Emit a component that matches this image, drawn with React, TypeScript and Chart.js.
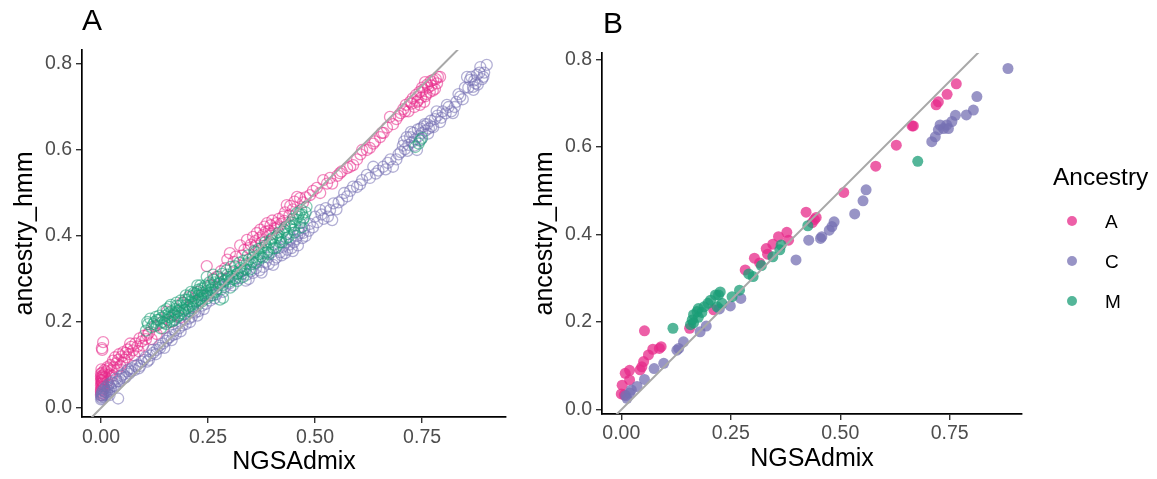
import React, { useEffect, useRef } from 'react';
import Chart from 'chart.js/auto';

// ---------- DATA ----------
const seriesNames = ['A', 'C', 'M'];
const xTickValues = [0, 0.25, 0.5, 0.75];
const xTickLabels = ['0.00', '0.25', '0.50', '0.75'];
const yTickValues = [0, 0.2, 0.4, 0.6, 0.8];
const yTickLabels = ['0.0', '0.2', '0.4', '0.6', '0.8'];
const diagonal = [-0.2, 1.2];

// Panel A (many windows) : [NGSAdmix, ancestry_hmm]
const panelA_A: number[][] = [
  [0.000,0.030],[0.000,0.038],[0.001,0.045],[0.000,0.052],[0.002,0.058],[0.000,0.064],[0.001,0.070],[0.003,0.075],[0.000,0.080],[0.004,0.042],[0.005,0.055],[0.006,0.067],[0.002,0.139],[0.005,0.153],[0.003,0.135],[0.001,0.034],[0.003,0.049],[0.002,0.062],[0.004,0.071],
  [0.000,0.042],[0.001,0.056],[0.002,0.066],[0.000,0.073],[0.003,0.082],[0.001,0.090],[0.004,0.060],[0.007,0.078],[0.008,0.088],[0.006,0.050],
  [0.010,0.072],[0.012,0.085],[0.015,0.062],[0.018,0.092],[0.020,0.078],[0.022,0.100],[0.025,0.088],[0.028,0.110],[0.030,0.095],[0.033,0.118],[0.036,0.104],[0.040,0.112],[0.042,0.125],[0.045,0.098],[0.048,0.120],[0.052,0.130],[0.055,0.112],[0.058,0.128],[0.062,0.136],[0.066,0.125],[0.070,0.142],[0.075,0.134],[0.080,0.150],[0.085,0.143],[0.090,0.162],[0.095,0.155],[0.100,0.168],[0.105,0.160],
  [0.015,0.095],[0.026,0.075],[0.038,0.090],[0.050,0.105],[0.060,0.118],[0.068,0.150],[0.078,0.122],[0.088,0.132],[0.098,0.145],[0.108,0.170],[0.118,0.160],[0.130,0.172],[0.145,0.185],[0.165,0.200],[0.185,0.210],
  [0.112,0.175],[0.125,0.190],[0.140,0.198],[0.154,0.224],[0.172,0.215],[0.190,0.245],[0.205,0.258],[0.225,0.270],[0.247,0.330],[0.262,0.300],[0.280,0.318],[0.295,0.345],[0.301,0.360],[0.315,0.352],[0.325,0.378],[0.335,0.368],
  [0.215,0.235],[0.235,0.262],[0.255,0.285],[0.270,0.305],[0.290,0.325],[0.310,0.340],[0.330,0.355],[0.345,0.372],[0.362,0.378],[0.375,0.385],[0.385,0.410],[0.398,0.405],[0.412,0.420],[0.428,0.435],
  [0.341,0.391],[0.350,0.380],[0.355,0.398],[0.360,0.388],[0.364,0.407],[0.370,0.395],[0.372,0.415],[0.378,0.402],[0.382,0.422],[0.388,0.430],[0.392,0.412],[0.396,0.425],[0.400,0.436],[0.405,0.418],[0.410,0.430],[0.415,0.440],[0.420,0.428],[0.425,0.445],[0.434,0.472],[0.430,0.455],[0.440,0.448],[0.448,0.462],
  [0.442,0.470],[0.452,0.480],[0.458,0.491],[0.465,0.488],[0.472,0.478],[0.478,0.490],[0.488,0.495],[0.495,0.505],[0.504,0.512],[0.512,0.500],[0.519,0.530],[0.528,0.522],[0.535,0.535],[0.540,0.522],[0.552,0.540],[0.558,0.546],[0.562,0.550],[0.575,0.558],[0.582,0.561],[0.589,0.565],[0.598,0.578],[0.606,0.590],[0.610,0.600],[0.621,0.600],[0.628,0.605],[0.636,0.615],
  [0.640,0.620],[0.652,0.630],[0.656,0.640],[0.660,0.640],[0.668,0.652],[0.675,0.677],[0.682,0.660],[0.690,0.672],[0.695,0.680],[0.700,0.686],[0.706,0.695],[0.710,0.690],[0.712,0.705],[0.718,0.690],[0.722,0.712],[0.726,0.708],[0.728,0.720],[0.732,0.700],[0.736,0.728],[0.738,0.712],[0.740,0.715],[0.744,0.735],[0.748,0.722],[0.750,0.745],[0.752,0.740],[0.757,0.758],[0.758,0.725],[0.760,0.730],[0.762,0.752],[0.764,0.745],[0.768,0.735],[0.770,0.760],[0.772,0.750],[0.775,0.738],[0.776,0.763],[0.780,0.742],[0.782,0.765],[0.785,0.755],[0.792,0.770],[0.745,0.705],[0.755,0.712],[0.787,0.770]
];

const panelA_C: number[][] = [
  [0.000,0.020],[0.001,0.025],[0.000,0.030],[0.002,0.035],[0.003,0.028],[0.004,0.040],[0.006,0.032],[0.008,0.045],[0.010,0.036],[0.012,0.050],[0.015,0.042],[0.018,0.055],[0.020,0.030],[0.022,0.048],[0.025,0.060],[0.030,0.052],[0.035,0.068],[0.040,0.022],[0.042,0.062],[0.048,0.075],[0.055,0.070],[0.060,0.085],[0.066,0.080],[0.072,0.092],[0.078,0.088],[0.085,0.100],[0.092,0.098],[0.100,0.112],[0.108,0.108],[0.115,0.122],[0.122,0.128],[0.130,0.135],[0.138,0.140],[0.145,0.150],[0.152,0.156],[0.160,0.165],[0.168,0.170],[0.175,0.172],[0.182,0.185],[0.190,0.192],[0.198,0.195],[0.205,0.208],[0.212,0.212],[0.220,0.222],[0.228,0.225],[0.236,0.238],[0.245,0.242],[0.255,0.250],[0.262,0.262],[0.270,0.265],[0.280,0.275],[0.290,0.282],
  [0.002,0.022],[0.004,0.030],[0.006,0.026],[0.008,0.038],[0.011,0.030],[0.014,0.036],[0.016,0.048],[0.019,0.040],[0.024,0.044],[0.028,0.058],[0.033,0.050],[0.038,0.062],[0.045,0.068],[0.052,0.078],[0.058,0.072],[0.064,0.090],[0.070,0.085],[0.080,0.098],[0.088,0.092],[0.095,0.108],[0.104,0.118],[0.112,0.112],[0.120,0.135],[0.128,0.125],[0.136,0.145],[0.148,0.140],[0.156,0.162],[0.165,0.158],[0.172,0.180],[0.186,0.178],[0.195,0.205],[0.208,0.200],[0.216,0.225],[0.225,0.215],[0.240,0.230],[0.250,0.260],[0.265,0.255],[0.275,0.285],[0.285,0.270],[0.295,0.300],
  [0.300,0.290],[0.312,0.298],[0.325,0.302],[0.338,0.296],[0.341,0.310],[0.350,0.318],[0.355,0.314],[0.362,0.325],[0.370,0.320],[0.379,0.328],[0.385,0.340],[0.392,0.335],[0.402,0.333],[0.410,0.350],[0.418,0.362],[0.425,0.375],[0.430,0.360],[0.435,0.368],[0.440,0.380],[0.445,0.372],[0.450,0.385],[0.455,0.392],[0.460,0.378],[0.465,0.407],[0.472,0.407],[0.470,0.395],[0.478,0.400],[0.485,0.412],[0.495,0.420],[0.505,0.432],[0.512,0.460],[0.520,0.440],[0.530,0.445],[0.540,0.437],[0.543,0.476],[0.550,0.462],[0.563,0.484],[0.575,0.492],[0.589,0.515],[0.598,0.514],[0.610,0.530],[0.621,0.542],[0.636,0.561],[0.648,0.552],[0.659,0.561],[0.670,0.570],[0.682,0.561],[0.690,0.578],
  [0.308,0.285],[0.320,0.312],[0.332,0.320],[0.345,0.300],[0.358,0.335],[0.368,0.342],[0.375,0.315],[0.390,0.350],[0.398,0.362],[0.405,0.345],[0.415,0.372],[0.422,0.355],[0.432,0.385],[0.442,0.392],[0.448,0.365],[0.458,0.400],[0.462,0.412],[0.475,0.418],[0.488,0.428],[0.500,0.445],[0.515,0.450],[0.525,0.465],[0.535,0.460],[0.555,0.478],[0.568,0.500],[0.582,0.505],[0.605,0.520],[0.628,0.535],[0.642,0.545],[0.665,0.555],[0.676,0.578],[0.695,0.590],
  [0.700,0.595],[0.705,0.610],[0.710,0.602],[0.714,0.630],[0.718,0.612],[0.722,0.630],[0.726,0.618],[0.730,0.640],[0.734,0.625],[0.738,0.600],[0.742,0.632],[0.746,0.650],[0.750,0.640],[0.754,0.655],[0.758,0.645],[0.762,0.660],[0.766,0.650],[0.770,0.668],[0.776,0.653],[0.780,0.672],[0.786,0.680],[0.792,0.665],[0.798,0.690],[0.805,0.685],[0.812,0.700],[0.822,0.686],[0.830,0.712],[0.839,0.724],[0.845,0.718],[0.855,0.770],[0.858,0.745],[0.862,0.763],[0.869,0.747],[0.872,0.762],[0.878,0.775],[0.880,0.752],[0.886,0.793],[0.890,0.765],[0.895,0.780],[0.901,0.798],[0.870,0.740],
  [0.708,0.620],[0.716,0.598],[0.724,0.642],[0.732,0.610],[0.740,0.648],[0.748,0.625],[0.756,0.660],[0.764,0.638],[0.772,0.655],[0.784,0.690],[0.795,0.675],[0.808,0.705],[0.818,0.690],[0.826,0.700],[0.835,0.730],[0.850,0.745],[0.865,0.770],[0.875,0.755],[0.884,0.780],[0.893,0.770]
];

const panelA_M: number[][] = [
  [0.105,0.180],[0.110,0.195],[0.118,0.188],[0.125,0.200],[0.130,0.192],[0.131,0.205],[0.135,0.205],[0.140,0.185],[0.142,0.210],[0.148,0.198],[0.150,0.215],[0.155,0.205],[0.158,0.220],[0.162,0.210],[0.165,0.225],[0.168,0.202],[0.170,0.218],[0.174,0.230],[0.178,0.212],[0.180,0.225],[0.184,0.238],[0.187,0.220],[0.190,0.232],[0.193,0.245],[0.196,0.228],[0.200,0.240],[0.203,0.252],[0.206,0.235],[0.210,0.248],[0.213,0.260],[0.216,0.242],[0.219,0.255],[0.222,0.266],[0.225,0.250],[0.228,0.262],[0.231,0.272],[0.234,0.256],[0.237,0.268],[0.240,0.278],[0.243,0.262],[0.246,0.272],[0.250,0.284],[0.255,0.268],[0.260,0.280],[0.265,0.292],[0.270,0.276],[0.275,0.290],[0.280,0.300],[0.285,0.286],[0.290,0.298],[0.295,0.310],[0.300,0.294],[0.305,0.306],[0.310,0.318],[0.315,0.302],[0.320,0.314],[0.325,0.326],[0.330,0.312],[0.335,0.324],[0.340,0.336],[0.345,0.345],[0.350,0.334],[0.355,0.350],[0.360,0.362],[0.365,0.346],[0.370,0.358],[0.375,0.372],[0.380,0.360],[0.385,0.378],[0.390,0.368],[0.395,0.385],[0.400,0.395],[0.405,0.380],[0.410,0.398],[0.415,0.408],[0.420,0.392],[0.425,0.410],[0.430,0.420],[0.435,0.405],[0.440,0.425],[0.445,0.432],[0.450,0.415],[0.455,0.438],[0.460,0.445],[0.465,0.430],[0.470,0.450],[0.474,0.442],[0.457,0.453],[0.480,0.468],[0.468,0.460],
  [0.152,0.195],[0.160,0.200],[0.172,0.205],[0.182,0.215],[0.195,0.218],[0.205,0.225],[0.215,0.232],[0.226,0.240],[0.236,0.248],[0.248,0.255],[0.258,0.262],[0.268,0.270],[0.285,0.256],[0.278,0.252],[0.247,0.305],[0.262,0.310],[0.225,0.285],[0.198,0.262],[0.176,0.245],[0.145,0.225],[0.128,0.212],[0.160,0.235],[0.210,0.270],[0.232,0.285],[0.302,0.280],[0.318,0.295],[0.332,0.305],[0.348,0.322],[0.362,0.338],[0.378,0.350],[0.392,0.358],[0.408,0.372],[0.422,0.385],[0.438,0.398],[0.452,0.408],[0.468,0.420],
  [0.108,0.200],[0.115,0.208],[0.122,0.195],[0.136,0.215],[0.143,0.200],[0.153,0.230],[0.157,0.212],[0.163,0.240],[0.167,0.215],[0.173,0.222],[0.177,0.238],[0.183,0.228],[0.186,0.250],[0.192,0.225],[0.197,0.252],[0.201,0.232],[0.207,0.262],[0.211,0.240],[0.217,0.268],[0.221,0.248],[0.227,0.275],[0.230,0.252],[0.235,0.278],[0.239,0.260],[0.244,0.285],[0.249,0.265],[0.253,0.292],[0.257,0.275],[0.263,0.298],[0.268,0.282],[0.273,0.305],[0.278,0.290],[0.283,0.312],[0.288,0.295],[0.293,0.320],[0.298,0.305],[0.303,0.328],[0.308,0.300],[0.313,0.330],[0.318,0.312],[0.323,0.338],[0.328,0.318],[0.333,0.342],[0.338,0.322],[0.343,0.355],[0.353,0.340],[0.358,0.365],[0.368,0.370],[0.373,0.352],[0.383,0.385],[0.388,0.362],[0.398,0.392],[0.403,0.372],[0.413,0.402],[0.418,0.385],[0.428,0.415],[0.433,0.395],[0.443,0.422],[0.448,0.440],[0.453,0.425],[0.463,0.452],[0.472,0.438],[0.478,0.455],
  [0.734,0.607],[0.742,0.615],[0.750,0.628],[0.745,0.622]
];

// Panel B (per individual)
const panelB_A: number[][] = [
  [0.765,0.744],[0.744,0.720],[0.724,0.703],[0.719,0.696],[0.667,0.648],[0.664,0.648],[0.628,0.604],[0.581,0.556],[0.508,0.496],[0.445,0.439],[0.441,0.434],[0.436,0.427],[0.422,0.451],[0.378,0.405],[0.382,0.387],[0.359,0.395],[0.346,0.378],[0.331,0.368],[0.334,0.355],[0.304,0.346],[0.316,0.335],[0.283,0.319],[0.211,0.228],[0.156,0.186],[0.053,0.180],[0.091,0.144],[0.087,0.140],[0.072,0.138],[0.062,0.125],[0.051,0.110],[0.047,0.098],[0.043,0.091],[0.019,0.090],[0.009,0.083],[0.019,0.068],[0.002,0.056],[0.000,0.036],[0.007,0.034]
];
const panelB_C: number[][] = [
  [0.883,0.779],[0.812,0.715],[0.804,0.684],[0.788,0.673],[0.763,0.672],[0.755,0.658],[0.743,0.650],[0.728,0.650],[0.736,0.642],[0.724,0.639],[0.747,0.642],[0.717,0.623],[0.709,0.612],[0.559,0.502],[0.552,0.477],[0.533,0.447],[0.486,0.429],[0.481,0.418],[0.475,0.410],[0.458,0.395],[0.455,0.391],[0.428,0.387],[0.399,0.342],[0.273,0.254],[0.249,0.237],[0.224,0.230],[0.194,0.191],[0.180,0.178],[0.142,0.155],[0.131,0.140],[0.127,0.136],[0.097,0.106],[0.075,0.094],[0.053,0.069],[0.036,0.053],[0.023,0.045],[0.019,0.038],[0.013,0.026],[0.010,0.032]
];
const panelB_M: number[][] = [
  [0.677,0.567],[0.426,0.420],[0.365,0.376],[0.362,0.365],[0.346,0.349],[0.320,0.329],[0.301,0.304],[0.291,0.310],[0.270,0.273],[0.253,0.258],[0.226,0.269],[0.222,0.262],[0.215,0.262],[0.204,0.250],[0.198,0.243],[0.189,0.235],[0.176,0.231],[0.173,0.224],[0.184,0.222],[0.165,0.217],[0.162,0.205],[0.165,0.198],[0.230,0.243],[0.219,0.235],[0.118,0.186],[0.158,0.194],[0.176,0.211]
];

// ---------- STYLE ----------
const FONT = '"Liberation Sans", Arial, Helvetica, sans-serif';
const rgb = [
  [231, 41, 138],
  [117, 112, 179],
  [27, 158, 119],
];
const rgba = (i: number, a: number) => `rgba(${rgb[i][0]},${rgb[i][1]},${rgb[i][2]},${a})`;

type PanelLayout = {
  left: number; width: number; top: number; right: number; xAxisH: number; yAxisW: number;
  xmin: number; xmax: number; ymin: number; ymax: number; xTitlePad: number; xTickPad: number;
};

const layoutA: PanelLayout = { left: 0, width: 530, top: 50, right: 24, xAxisH: 62, yAxisW: 82, xmin: -0.0444, xmax: 0.946, ymin: -0.021, ymax: 0.8326, xTitlePad: 2, xTickPad: 3 };
const layoutB: PanelLayout = { left: 520, width: 520, top: 53, right: 18, xAxisH: 65, yAxisW: 82, xmin: -0.044, xmax: 0.915, ymin: -0.0098, ymax: 0.8144, xTitlePad: 4.5, xTickPad: 2 };

function toPts(arr: number[][]) {
  return arr.map((p) => ({ x: p[0], y: p[1] }));
}

function buildConfig(series: number[][][], filled: boolean, L: PanelLayout): any {
  const datasets: any[] = series.map((arr, i) => ({
    type: 'scatter',
    label: seriesNames[i],
    data: toPts(arr),
    pointRadius: filled ? 5.5 : 5.5,
    pointHoverRadius: 5.5,
    pointStyle: 'circle',
    backgroundColor: filled ? rgba(i, 0.75) : 'rgba(0,0,0,0)',
    borderColor: filled ? 'rgba(0,0,0,0)' : rgba(i, 0.55),
    pointBorderWidth: filled ? 0 : 1.3,
    borderWidth: filled ? 0 : 1.3,
    order: 3 - i,
  }));
  datasets.push({
    type: 'line',
    label: 'y=x',
    data: diagonal.map((v) => ({ x: v, y: v })),
    borderColor: '#A8A8A8',
    borderWidth: 2,
    pointRadius: 0,
    fill: false,
    order: 0,
    clip: 0,
  });
  const tickFont = { family: FONT, size: 19.5 };
  const titleFont = { family: FONT, size: 25 };
  return {
    type: 'scatter',
    data: { datasets },
    options: {
      animation: false,
      responsive: false,
      maintainAspectRatio: false,
      events: [],
      layout: { padding: { left: 0, right: L.right, top: L.top, bottom: 0 } },
      plugins: { legend: { display: false }, tooltip: { enabled: false }, title: { display: false } },
      scales: {
        x: {
          type: 'linear',
          min: L.xmin,
          max: L.xmax,
          afterBuildTicks: (s: any) => { s.ticks = xTickValues.map((v) => ({ value: v })); },
          afterFit: (s: any) => { s.height = L.xAxisH; },
          ticks: {
            callback: (_v: any, i: number) => xTickLabels[i],
            color: '#4D4D4D',
            font: tickFont,
            padding: L.xTickPad,
            maxRotation: 0,
            autoSkip: false,
          },
          grid: { display: true, drawOnChartArea: false, drawTicks: true, tickLength: 6, color: '#333333', lineWidth: 1.4 },
          border: { display: true, color: '#000000', width: 1.7 },
          title: { display: true, text: 'NGSAdmix', color: '#000000', font: titleFont, padding: { top: 0, bottom: L.xTitlePad } },
        },
        y: {
          type: 'linear',
          min: L.ymin,
          max: L.ymax,
          afterBuildTicks: (s: any) => { s.ticks = yTickValues.map((v) => ({ value: v })); },
          afterFit: (s: any) => { s.width = L.yAxisW; },
          ticks: {
            callback: (_v: any, i: number) => yTickLabels[i],
            color: '#4D4D4D',
            font: tickFont,
            padding: 4,
            autoSkip: false,
          },
          grid: { display: true, drawOnChartArea: false, drawTicks: true, tickLength: 6, color: '#333333', lineWidth: 1.4 },
          border: { display: true, color: '#000000', width: 1.7 },
          title: { display: true, text: 'ancestry_hmm', color: '#000000', font: titleFont, padding: { top: 10, bottom: 0 } },
        },
      },
    },
  };
}

function Panel({ series, filled, L }: { series: number[][][]; filled: boolean; L: PanelLayout }) {
  const ref = useRef<HTMLCanvasElement | null>(null);
  useEffect(() => {
    if (!ref.current) return;
    const chart = new Chart(ref.current, buildConfig(series, filled, L));
    return () => chart.destroy();
  }, []);
  return (
    <canvas
      ref={ref}
      width={L.width}
      height={479}
      style={{ position: 'absolute', left: L.left, top: 0, width: L.width, height: 479 }}
    />
  );
}

export default function App() {
  const legendY = [221, 261, 301];
  return (
    <div style={{ position: 'absolute', left: 0, top: 0, width: 1157, height: 479, background: '#ffffff', overflow: 'hidden' }}>
      <Panel series={[panelA_A, panelA_C, panelA_M]} filled={false} L={layoutA} />
      <Panel series={[panelB_A, panelB_C, panelB_M]} filled={true} L={layoutB} />
      <svg width={1157} height={479} style={{ position: 'absolute', left: 0, top: 0, pointerEvents: 'none' }}>
        <text x={82} y={29.5} fontFamily={FONT} fontSize={30} fill="#000">A</text>
        <text x={603} y={33} fontFamily={FONT} fontSize={30} fill="#000">B</text>
        <text x={1053} y={185} fontFamily={FONT} fontSize={24.5} fill="#000">Ancestry</text>
        {seriesNames.map((n, i) => (
          <g key={n}>
            <circle cx={1072} cy={legendY[i]} r={5} fill={rgba(i, 0.75)} />
            <text x={1105} y={legendY[i] + 6.8} fontFamily={FONT} fontSize={19} fill="#000">{n}</text>
          </g>
        ))}
      </svg>
    </div>
  );
}
